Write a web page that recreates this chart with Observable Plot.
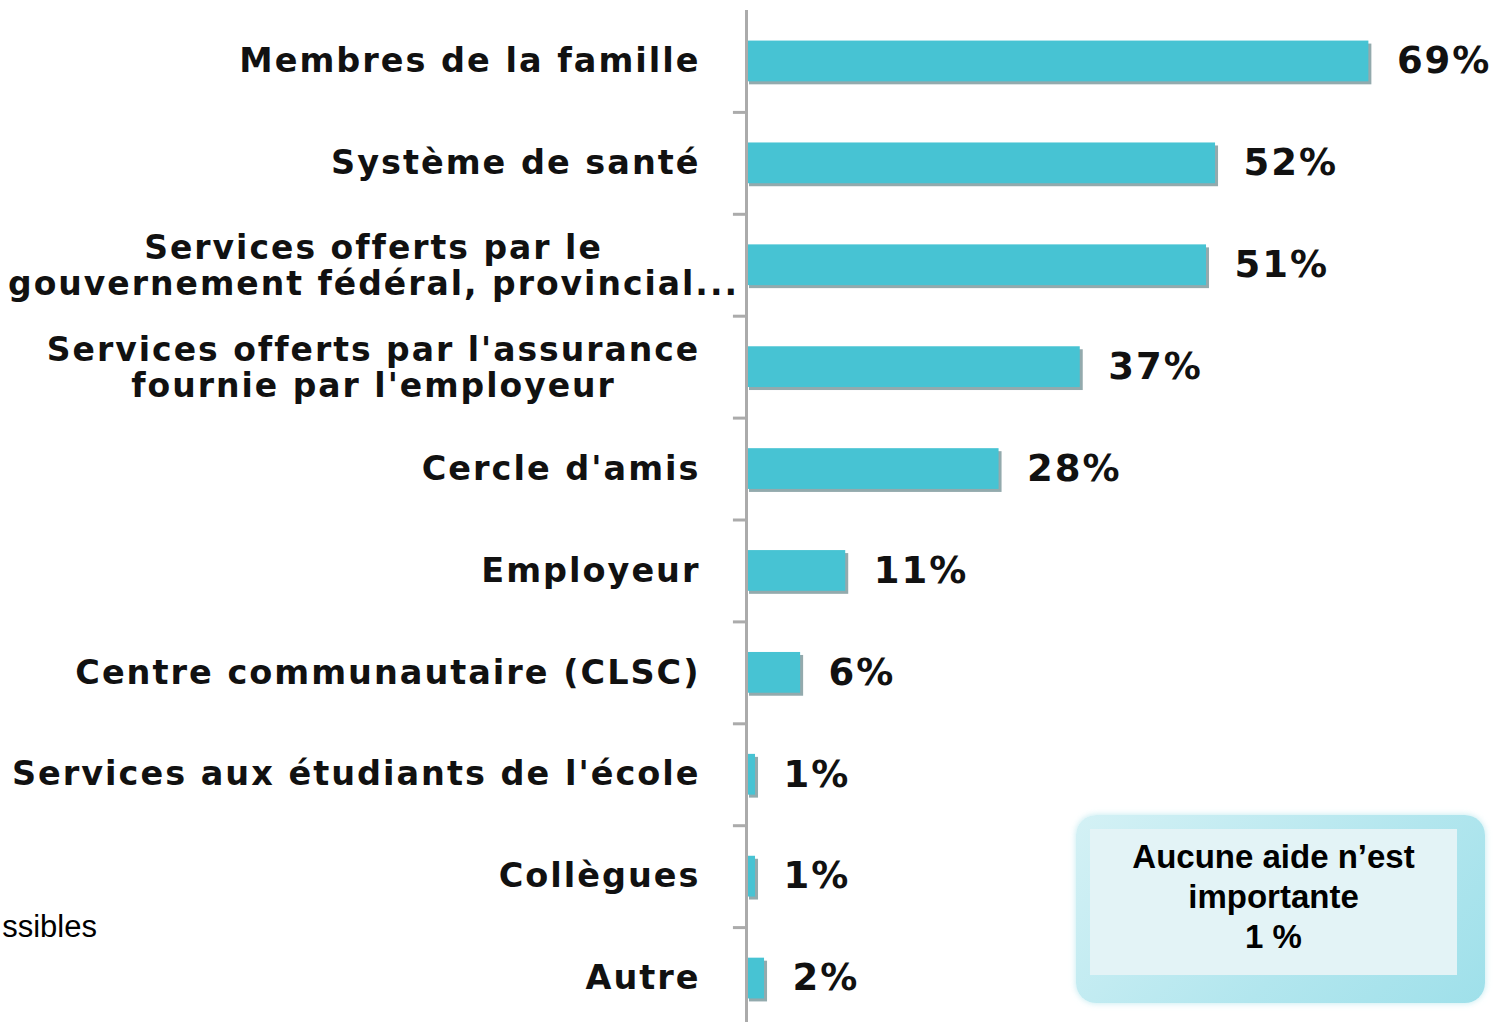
<!DOCTYPE html>
<html>
<head>
<meta charset="utf-8">
<script src="https://cdn.jsdelivr.net/npm/d3@7"></script>
<script src="https://cdn.jsdelivr.net/npm/@observablehq/plot@0.6"></script>
<style>
  html, body { margin: 0; padding: 0; background: #fff; }
  #wrap { position: relative; width: 1501px; height: 1022px; overflow: hidden; }
  #note {
    position: absolute; left: 1076px; top: 815px; width: 409px; height: 188px;
    border-radius: 20px;
    background: linear-gradient(135deg, #d4f1f5 0%, #b2e6ee 60%, #9fe0ea 100%);
    box-shadow: 0 0 6px rgba(150,220,230,0.6);
  }
  #note .inner {
    position: absolute; left: 14px; top: 14px; right: 28px; bottom: 28px;
    background: #e3f3f6;
  }
  #note .txt {
    position: absolute; left: 14px; right: 28px; top: 22px;
    text-align: center; font-family: "Liberation Sans", Arial, sans-serif;
    font-weight: bold; font-size: 33px; line-height: 40px; color: #000;
  }
  #side {
    position: absolute; left: 0; top: 909px; width: 97px; overflow: hidden;
    text-align: right; white-space: nowrap;
    font-family: "Liberation Sans", Arial, sans-serif; font-size: 31px; color: #000;
  }
</style>
</head>
<body>
<div id="wrap">
  <div id="chart"></div>
  <div id="note"><div class="inner"></div><div class="txt">Aucune aide n’est<br>importante<br>1 %</div></div>
  <div id="side">ssibles</div>
</div>
<script>
const categories = [
  "Membres de la famille",
  "Système de santé",
  "Services offerts par le\ngouvernement fédéral, provincial...",
  "Services offerts par l'assurance\nfournie par l'employeur",
  "Cercle d'amis",
  "Employeur",
  "Centre communautaire (CLSC)",
  "Services aux étudiants de l'école",
  "Collègues",
  "Autre"
];
const values = [69, 52, 51, 37, 28, 11, 6, 1, 1, 2];
const valueLabels = ["69%", "52%", "51%", "37%", "28%", "11%", "6%", "1%", "1%", "2%"];

const data = categories.map((c, i) => ({cat: c, value: values[i], label: valueLabels[i], multi: c.includes("\n")}));

const font = "DejaVu Sans";
const chart = Plot.plot({
  width: 1501,
  height: 1022,
  marginTop: 10,
  marginBottom: 0,
  marginLeft: 746,
  marginRight: 78,
  x: {domain: [0, 75], range: [746, 1422.5], axis: null},
  y: {domain: categories, range: [10, 1029], paddingInner: 0.6, paddingOuter: 0.3, round: false, axis: null},
  marks: [
    Plot.barX(data, {x: "value", y: "cat", fill: "#93aaad", dx: 3, dy: 3}),
    Plot.barX(data, {x: "value", y: "cat", fill: "#47c3d3"}),
    Plot.ruleX([0], {stroke: "#ababab", strokeWidth: 3}),
    Plot.ruleY(categories.slice(1), {y: d => d, x1: -1.45, x2: 0, dy: -50.95, stroke: "#ababab", strokeWidth: 3}),
    Plot.text(data.filter(d => !d.multi), {
      x: 0, y: "cat", text: "cat", textAnchor: "end", dx: -46,
      fontFamily: font, fontWeight: "bold", fontSize: 33.5, fill: "#111"
    }),
    Plot.text(data.filter(d => d.multi), {
      x: 0, y: "cat", text: "cat", textAnchor: "middle", dx: -373, lineHeight: 1.1,
      fontFamily: font, fontWeight: "bold", fontSize: 33, fill: "#111"
    }),
    Plot.text(data, {
      x: "value", y: "cat", text: "label", textAnchor: "start", dx: 28,
      fontFamily: font, fontWeight: "bold", fontSize: 37, fill: "#111"
    })
  ]
});
d3.select(chart).selectAll("text").style("letter-spacing", "2px");
document.getElementById("chart").appendChild(chart);
</script>
</body>
</html>
